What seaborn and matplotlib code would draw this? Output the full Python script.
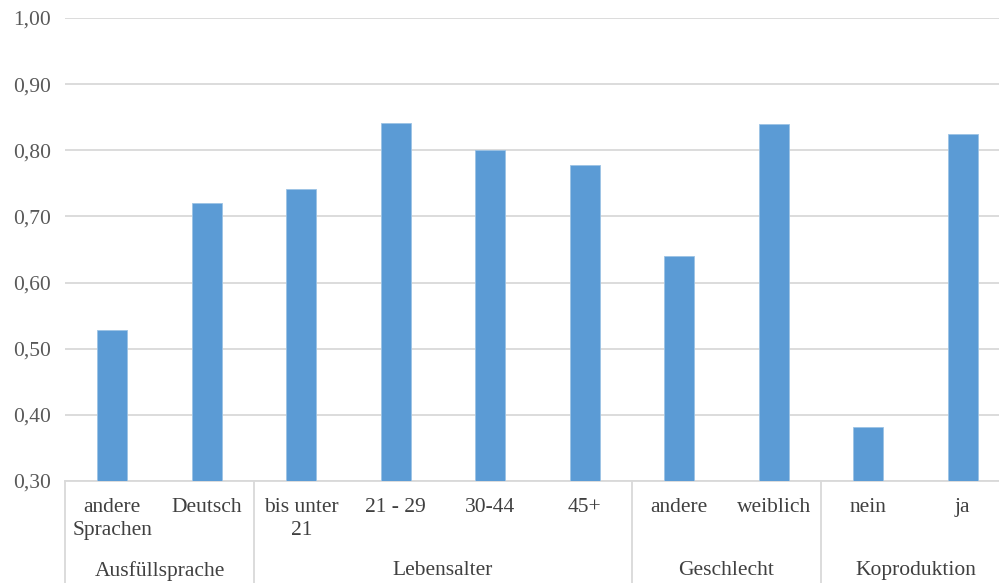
import matplotlib
matplotlib.use("Agg")
import matplotlib.pyplot as plt
import seaborn as sns
import pandas as pd
from matplotlib.ticker import FuncFormatter
from matplotlib.lines import Line2D

categories = ["andere\nSprachen", "Deutsch", "bis unter\n21", "21 - 29", "30-44", "45+",
              "andere", "weiblich", "nein", "ja"]
values = [0.528, 0.721, 0.741, 0.842, 0.800, 0.778, 0.640, 0.839, 0.382, 0.825]
groups = ["Ausfüllsprache", "Lebensalter", "Geschlecht", "Koproduktion"]
group_sizes = [2, 4, 2, 2]
yticks = [0.30, 0.40, 0.50, 0.60, 0.70, 0.80, 0.90, 1.00]

sns.set_theme(style="white")
plt.rcParams['font.family'] = ['Liberation Serif', 'DejaVu Serif']

df = pd.DataFrame({"cat": [f"{i}" for i in range(len(categories))], "val": values})

fig = plt.figure(figsize=(9.99, 5.83), dpi=100)
W, H = 999, 583
ax = fig.add_axes([65 / W, (H - 481) / H, 945 / W, (481 - 18) / H])

sns.barplot(data=df, x="cat", y="val", color="#5B9BD5", saturation=1, width=0.32, ax=ax,
            edgecolor="#9CC3E5", linewidth=0.6, zorder=3)

FS = 15.5
ax.set_ylim(0.3, 1.0)
ax.set_xlim(-0.5, len(categories) - 0.5)
ax.set_yticks(yticks)
ax.yaxis.set_major_formatter(FuncFormatter(lambda v, p: f"{v:.2f}".replace(".", ",")))
ax.yaxis.grid(True, color="#D9D9D9", linewidth=1.3, zorder=0)
ax.set_axisbelow(True)
ax.set_xlabel("")
ax.set_ylabel("")
ax.set_xticks(range(len(categories)))
ax.set_xticklabels(categories, fontsize=FS, color="#404040", linespacing=1.3, va="top")
ax.tick_params(axis="x", length=0, pad=12)
ax.tick_params(axis="y", length=0, pad=10, labelsize=FS, labelcolor="#595959")

for s in ["top", "right", "left"]:
    ax.spines[s].set_visible(False)
ax.spines["bottom"].set_color("#D9D9D9")
ax.spines["bottom"].set_linewidth(1.3)

trans = ax.get_xaxis_transform()
start = -0.5
bounds = [start]
for name, n in zip(groups, group_sizes):
    center = start + n / 2
    ax.text(center, -0.194, name, transform=trans, ha="center", va="center",
            fontsize=FS, color="#404040")
    start += n
    bounds.append(start)
for b in bounds:
    ax.add_line(Line2D([b, b], [0, -0.25], transform=trans, color="#D9D9D9",
                       linewidth=1.3, clip_on=False))

fig.savefig("out.png", dpi=100)
